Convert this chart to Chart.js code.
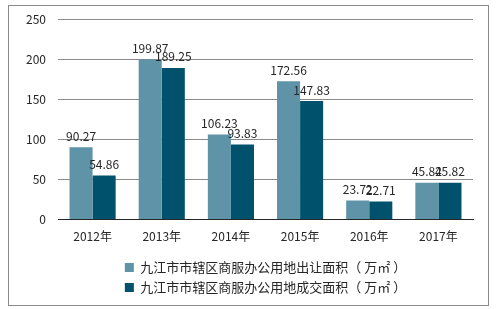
<!DOCTYPE html>
<html><head><meta charset="utf-8">
<script src="https://cdn.jsdelivr.net/npm/chart.js@4/dist/chart.umd.min.js"></script>
<style>html,body{margin:0;padding:0;background:#fff;}#wrap{width:497px;height:309px;position:relative;}</style>
</head><body><div id="wrap"><canvas id="c" width="497" height="309"></canvas></div>
<script>
const categories = ['2012年','2013年','2014年','2015年','2016年','2017年'];
const seriesNames = ['九江市市辖区商服办公用地出让面积（ 万㎡ ）','九江市市辖区商服办公用地成交面积（ 万㎡ ）'];
const transferArea = [90.27,199.87,106.23,172.56,23.72,45.82];
const dealArea = [54.86,189.25,93.83,147.83,22.71,45.82];
const yTicks = [0,50,100,150,200,250];

const FONT = '"Microsoft YaHei","Noto Sans CJK SC","DejaVu Sans",sans-serif';

const borderPlugin = {
  id:'border',
  beforeDraw(chart){
    const ctx = chart.ctx;
    ctx.save();
    ctx.fillStyle='#fff';
    ctx.fillRect(0,0,chart.width,chart.height);
    ctx.strokeStyle='#8a8a8a';
    ctx.lineWidth=1;
    ctx.strokeRect(8.5,5.5,480,300);
    ctx.restore();
  }
};
const labelPlugin = {
  id:'vals',
  afterDatasetsDraw(chart){
    const ctx = chart.ctx;
    ctx.save();
    ctx.font = '12px ' + FONT;
    ctx.fillStyle = '#262626';
    ctx.textAlign = 'center';
    ctx.textBaseline = 'bottom';
    chart.data.datasets.forEach((ds,i)=>{
      const meta = chart.getDatasetMeta(i);
      meta.data.forEach((bar,j)=>{
        ctx.fillText(ds.data[j].toFixed(2), bar.x, bar.y - 5);
      });
    });
    ctx.restore();
  }
};

new Chart(document.getElementById('c'), {
  type:'bar',
  data:{
    labels:categories,
    datasets:[
      {label:seriesNames[0], data:transferArea, backgroundColor:'#5F93A8', categoryPercentage:0.667, barPercentage:1},
      {label:seriesNames[1], data:dealArea, backgroundColor:'#00516B', categoryPercentage:0.667, barPercentage:1}
    ]
  },
  options:{
    responsive:false,
    animation:false,
    devicePixelRatio:1,
    layout:{padding:{left:0,right:24,top:14,bottom:5}},
    plugins:{
      legend:{
        position:'bottom',
        fullSize:false,
        labels:{boxWidth:9,boxHeight:9,font:{size:13,family:FONT},color:'#262626',padding:7}
      },
      tooltip:{enabled:false}
    },
    scales:{
      x:{
        grid:{display:false,drawTicks:false},
        border:{color:'#262626',width:1},
        ticks:{font:{size:12,family:FONT},color:'#262626',padding:10}
      },
      y:{
        min:0,max:250,
        afterBuildTicks(s){s.ticks = yTicks.map(v=>({value:v}));},
        afterFit(s){s.width = 58;},
        grid:{color:'#8a8a8a',drawTicks:false},
        border:{display:false},
        ticks:{font:{size:12,family:FONT},color:'#262626',padding:12}
      }
    }
  },
  plugins:[borderPlugin,labelPlugin]
});
</script></body></html>
